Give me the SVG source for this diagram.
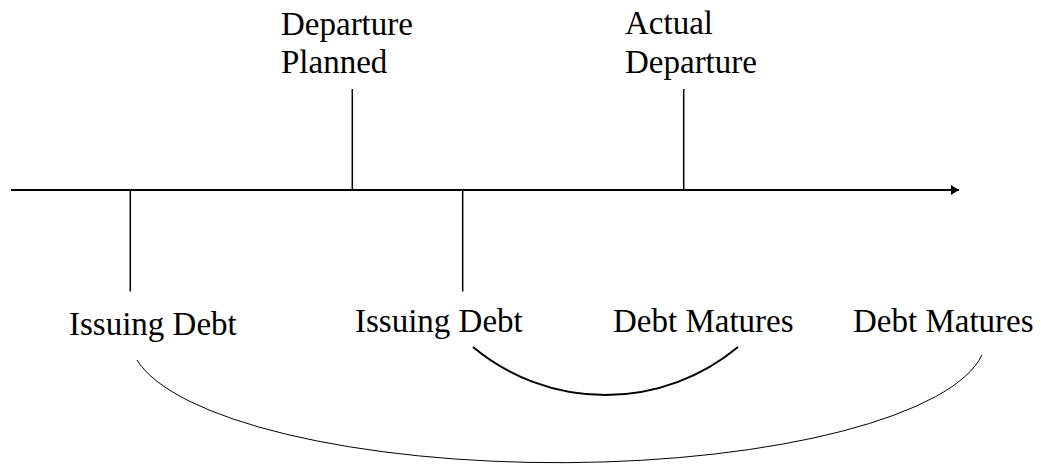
<svg xmlns="http://www.w3.org/2000/svg" width="1041" height="465" viewBox="0 0 1041 465">
<style>
text{font-family:"Liberation Serif","Times New Roman",serif;font-size:33px;fill:#000}
.ax{stroke:#000;stroke-width:2;fill:none}
.tk{stroke:#000;stroke-width:1.5;fill:none}
.arc1{stroke:#000;stroke-width:2;fill:none}
.arc2{stroke:#000;stroke-width:1;fill:none}
</style>
<defs>
<marker id="ah" markerWidth="10" markerHeight="10" refX="8" refY="5" orient="auto" markerUnits="userSpaceOnUse">
<path d="M0,0 L8,5 L0,10 Z" fill="#000"/>
</marker>
</defs>
<rect width="1041" height="465" fill="#fff"/>
<g id="connectors">
<line class="ax" x1="11" y1="190" x2="959" y2="190" marker-end="url(#ah)"/>
<line class="tk" x1="352.3" y1="89" x2="352.3" y2="190"/>
<line class="tk" x1="683.7" y1="89" x2="683.7" y2="190"/>
<line class="tk" x1="130.3" y1="190" x2="130.3" y2="291.5"/>
<line class="tk" x1="462.7" y1="190" x2="462.7" y2="291.5"/>
<path class="arc1" d="M473,347 A207,207 0 0 0 738,347"/>
<path class="arc2" d="M137,360 A428,125 0 0 0 982,355"/>
</g>
<g id="departure-planned"><text x="281" y="35">Departure</text><text x="281" y="73">Planned</text></g>
<g id="actual-departure"><text x="625" y="34">Actual</text><text x="625" y="73">Departure</text></g>
<g id="issuing-debt-1"><text x="69" y="335">Issuing Debt</text></g>
<g id="issuing-debt-2"><text x="355" y="332">Issuing Debt</text></g>
<g id="debt-matures-1"><text x="613" y="332">Debt Matures</text></g>
<g id="debt-matures-2"><text x="853" y="332">Debt Matures</text></g>
</svg>
